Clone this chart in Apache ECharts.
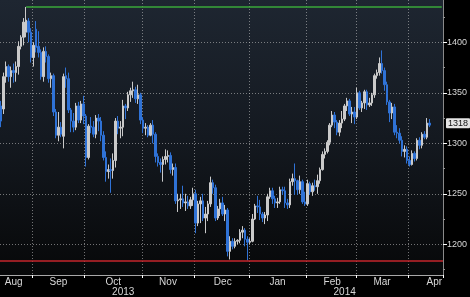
<!DOCTYPE html>
<html><head><meta charset="utf-8">
<script src="https://cdn.jsdelivr.net/npm/echarts@6/dist/echarts.min.js"></script>
<style>html,body{margin:0;padding:0;background:#000;}#c{width:470px;height:297px;}</style>
</head><body><div id="c"></div>
<script>
// Daily OHLC (Aug 14 2013 - Apr 11 2014, weekdays)
const opens = [1337,1334,1366,1376,1366,1372,1370,1376,1396,1405,1410,1421,1410,
1385,1413,1396,1390,1366,1391,1386,1364,1367,1331,1308,1316,1307,1367,1364,1333,1322,1316,1337,1323,1339,
1327,1286,1317,1316,1309,1325,1322,1308,1286,1272,1274,1273,1283,1322,1315,1316,1337,1335,1348,1352,1353,1344,1348,
1323,1315,1316,1308,1318,1309,1287,1281,1279,1284,1287,1288,1274,1276,1243,1244,1245,1241,1242,1238,1244,
1250,1221,1240,1243,1226,1230,1240,1261,1256,1226,1235,1241,1230,1234,1193,1203,1198,1203,1204,1212,1214,1205,
1202,1203,1225,1238,1237,1230,1226,1229,1247,1253,1245,1241,1242,1254,1253,1241,1239,1262,1265,1263,1254,1262,1242,
1240,1260,1252,1258,1257,1263,1274,1289,1292,1301,1318,1328,1321,1311,1320,1324,1337,1342,1329,1331,
1326,1350,1335,1340,1351,1338,1340,1348,1367,1370,1379,1372,1358,1341,1330,1336,1311,1310,1303,1292,1294,
1283,1279,1290,1285,1303,1298,1309,1306,1320];
const closes = [1322,1366,1376,1366,1372,1370,1376,1396,1405,1420,1422,1410,1385,
1397,1395,1390,1366,1391,1386,1364,1367,1331,1308,1316,1309,1366,1364,1333,1322,1316,1337,1323,1339,1327,
1286,1317,1316,1309,1325,1322,1308,1286,1272,1274,1273,1283,1322,1315,1316,1337,1335,1348,1352,1353,1344,1348,1323,
1315,1316,1308,1318,1309,1287,1281,1279,1284,1287,1288,1274,1276,1243,1244,1245,1241,1242,1238,1244,1250,
1221,1240,1243,1226,1230,1240,1261,1256,1226,1235,1241,1230,1234,1193,1203,1198,1203,1204,1212,1214,1205,1202,
1203,1225,1238,1237,1230,1226,1229,1247,1253,1245,1241,1242,1254,1253,1241,1239,1262,1265,1263,1254,1262,1242,1240,
1260,1252,1258,1257,1263,1274,1289,1292,1301,1318,1328,1321,1311,1320,1324,1337,1342,1329,1331,1326,
1350,1335,1340,1351,1338,1340,1348,1367,1370,1379,1372,1358,1341,1330,1336,1311,1310,1303,1292,1294,1283,
1279,1290,1285,1303,1298,1309,1306,1320,1318];
const lows = [1316,1329,1360,1361,1355,1360,1361,1368,1393,1397,1405,1400,1380,
1376,1390,1385,1363,1361,1380,1360,1355,1327,1305,1302,1306,1295,1355,1330,1311,1311,1313,1320,1320,1319,
1277,1284,1310,1306,1305,1312,1302,1283,1262,1265,1251,1265,1276,1309,1305,1307,1324,1332,1341,1345,1340,1339,1319,
1310,1308,1306,1307,1300,1281,1277,1271,1262,1279,1281,1270,1268,1240,1232,1235,1237,1233,1235,1235,1238,
1211,1218,1221,1223,1211,1223,1237,1250,1223,1224,1228,1228,1223,1188,1185,1195,1196,1200,1201,1206,1198,1184,
1200,1202,1224,1231,1224,1222,1220,1223,1245,1240,1236,1236,1240,1249,1236,1235,1236,1258,1249,1249,1250,1240,1238,
1238,1249,1248,1253,1250,1260,1273,1285,1290,1298,1316,1315,1308,1307,1315,1322,1332,1327,1320,1319,
1324,1333,1331,1334,1333,1336,1337,1345,1364,1367,1369,1352,1338,1321,1324,1308,1305,1300,1287,1286,1280,
1277,1278,1282,1283,1294,1295,1304,1304,1316];
const highs = [1342,1370,1381,1378,1376,1379,1381,1401,1407,1424,1435,1424,1414,
1400,1421,1411,1393,1395,1396,1388,1370,1369,1334,1331,1321,1369,1375,1370,1335,1330,1340,1341,1342,1347,
1329,1319,1326,1322,1328,1329,1326,1312,1292,1279,1285,1290,1325,1327,1322,1343,1339,1351,1355,1361,1356,1358,1350,
1326,1320,1318,1320,1323,1311,1290,1285,1287,1294,1293,1291,1280,1280,1250,1250,1258,1250,1248,1247,1256,
1254,1243,1247,1250,1237,1243,1267,1264,1259,1238,1245,1247,1239,1236,1208,1206,1206,1205,1215,1218,1216,1208,
1206,1230,1240,1248,1244,1232,1232,1250,1256,1256,1248,1246,1257,1257,1257,1245,1265,1270,1280,1264,1268,1264,1252,
1264,1262,1261,1264,1269,1276,1292,1295,1303,1320,1332,1331,1323,1323,1332,1339,1345,1344,1336,1336,
1355,1352,1342,1353,1353,1345,1350,1369,1373,1385,1392,1375,1361,1343,1340,1339,1318,1315,1307,1298,1297,
1287,1293,1292,1305,1306,1311,1312,1325,1324];

const startDate = '2013-08-14';
const endDate = '2014-04-18';
const yTicks = [1200, 1250, 1300, 1350, 1400];
const yMinorTicks = [1175, 1225, 1275, 1325, 1375, 1425];
const monthLabels = {'2013-08-21':'Aug','2013-09-16':'Sep','2013-10-16':'Oct','2013-11-15':'Nov',
  '2013-12-17':'Dec','2014-01-16':'Jan','2014-02-17':'Feb','2014-03-17':'Mar','2014-04-15':'Apr'};
const yearLabels = {'2013-10-22':'2013','2014-02-24':'2014'};
const highDate = '2013-08-28';
const highLevel = 1435;
const lowLevel = 1184;
const lastPrice = 1318;
const yMin = 1169.6, yMax = 1441.9;

const dates = [];
for (let d = new Date(startDate + 'T00:00:00Z'); d <= new Date(endDate + 'T00:00:00Z'); d.setUTCDate(d.getUTCDate() + 1)) {
  const wd = d.getUTCDay();
  if (wd === 0 || wd === 6) continue;
  dates.push(d.toISOString().slice(0, 10));
}
const ohlc = opens.map((o, i) => [o, closes[i], lows[i], highs[i]]);
const isMonthStart = (i) => i > 0 && dates[i].slice(0, 7) !== dates[i - 1].slice(0, 7);
const FONT = "'Liberation Sans Narrow','Arial Narrow','Liberation Sans',Arial,sans-serif";
const gridLine = {type: [1, 2], color: 'rgba(200,200,200,0.55)', width: 1};

const chart = echarts.init(document.getElementById('c'), null, {renderer: 'canvas'});
chart.setOption({
  backgroundColor: '#000',
  animation: false,
  grid: {left: 0, right: 26, top: 0, bottom: 22, show: true, borderWidth: 0,
    backgroundColor: new echarts.graphic.LinearGradient(0, 0, 0, 1, [
      {offset: 0, color: '#1e2631'}, {offset: 0.5, color: '#141920'}, {offset: 1, color: '#070809'}])},
  xAxis: [{
    type: 'category', data: dates, boundaryGap: true,
    axisLine: {show: true, lineStyle: {color: '#a8a8a8', width: 1}},
    axisTick: {show: true, interval: (i) => isMonthStart(i), length: 3, lineStyle: {color: '#ffffff'}},
    splitLine: {show: true, interval: (i) => isMonthStart(i), lineStyle: gridLine},
    axisLabel: {interval: (i, v) => v in monthLabels, formatter: (v) => monthLabels[v] || '',
      color: '#d8d8d8', fontSize: 10, fontFamily: FONT, margin: 2}
  }, {
    type: 'category', data: dates, boundaryGap: true, position: 'bottom', offset: 10,
    axisLine: {show: false}, axisTick: {show: false}, splitLine: {show: false},
    axisLabel: {interval: (i, v) => v in yearLabels, formatter: (v) => yearLabels[v] || '',
      color: '#d8d8d8', fontSize: 10, fontFamily: FONT, margin: 2}
  }],
  yAxis: [{
    type: 'value', position: 'right', min: yMin, max: yMax, scale: true,
    axisLine: {show: true, lineStyle: {color: '#8a8a8a'}},
    axisTick: {show: true, length: 4, lineStyle: {color: '#ffffff'}, customValues: yTicks},
    axisLabel: {customValues: yTicks, formatter: (v) => String(v), color: '#d8d8d8', fontSize: 9, fontFamily: FONT, margin: 4},
    splitLine: {show: true, lineStyle: gridLine}
  }, {
    type: 'value', position: 'right', min: yMin, max: yMax, scale: true,
    axisLine: {show: false},
    axisTick: {show: true, length: 2, lineStyle: {color: '#9a9a9a'}, customValues: yMinorTicks},
    axisLabel: {show: false}, splitLine: {show: false}
  }],
  series: [{
    type: 'candlestick', data: ohlc, barWidth: 2,
    itemStyle: {color: '#cacaca', color0: '#2f72d6', borderColor: '#cacaca', borderColor0: '#2f72d6', borderWidth: 1},
    markLine: {
      silent: true, symbol: 'none', animation: false, label: {show: false},
      data: [
        [{coord: [highDate, highLevel], lineStyle: {color: '#3aa83a', width: 1.5, type: 'solid'}},
         {coord: [dates[dates.length - 1], highLevel]}],
        {yAxis: lowLevel, lineStyle: {color: '#c4262c', width: 1.5, type: 'solid'}}
      ]
    }
  }, {
    type: 'line', data: [],
    markLine: {
      silent: true, symbol: 'none', animation: false,
      data: [{yAxis: lastPrice, lineStyle: {color: 'rgba(0,0,0,0)', width: 1},
        label: {show: true, position: 'end', formatter: String(lastPrice), distance: 3, offset: [0, -2],
          backgroundColor: '#e4e4e4', color: '#111', fontSize: 9, fontFamily: FONT,
          padding: [1, 2, 0, 2], borderRadius: 1}}]
    }
  }]
});
</script>
</body></html>
